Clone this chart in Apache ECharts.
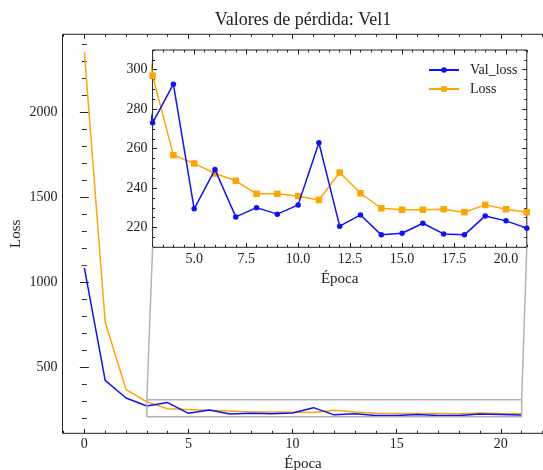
<!DOCTYPE html>
<html>
<head>
<meta charset="utf-8">
<script src="https://cdn.jsdelivr.net/npm/echarts@6/dist/echarts.min.js"></script>
<style>
  html, body { margin: 0; padding: 0; background: #fff; }
  #chart { width: 543px; height: 470px; }
</style>
</head>
<body>
<div id="chart"></div>
<script>
// Training history for model "Vel1"
const epochs = [0, 1, 2, 3, 4, 5, 6, 7, 8, 9, 10, 11, 12, 13, 14, 15, 16, 17, 18, 19, 20, 21];
const valLoss = [1086, 424, 320, 273.1, 292.7, 229.5, 249.4, 225.4, 230.1, 226.8, 231.5, 263.0,
                 220.7, 226.4, 216.3, 217.1, 222.2, 216.8, 216.3, 225.9, 223.4, 219.7];
const trainLoss = [2355, 767, 369, 297.0, 256.7, 252.5, 247.4, 243.7, 237.1, 237.1, 235.9, 234.0,
                   247.9, 237.4, 229.8, 229.0, 229.0, 229.3, 227.8, 231.5, 229.3, 227.8];

// Tick labels
const mainXTicks = [0, 5, 10, 15, 20];
const mainYTicks = [500, 1000, 1500, 2000];
const zoomXTicks = [5, 7.5, 10, 12.5, 15, 17.5, 20];
const zoomYTicks = [220, 240, 260, 280, 300];

// Axis ranges
const mainXRange = [-1.05, 22.05];
const mainYRange = [112, 2461];
const zoomXRange = [3, 21];
const zoomYRange = [210, 310];

const FONT = '"Liberation Serif", "DejaVu Serif", serif';
const INK = '#222';

function steps(from, to, step) {
  const out = [];
  for (let v = from; v <= to + 1e-9; v += step) out.push(Math.round(v * 1000) / 1000);
  return out;
}
const mainXMinor = steps(-1, 22, 1);
const mainYMinor = steps(200, 2400, 100);
const zoomXMinor = steps(3, 21, 0.5);
const zoomYMinor = steps(210, 310, 5);

// One tick-only axis (major or minor, any side)
function axis(gridIndex, position, range, ticks, len, label) {
  const a = {
    type: 'value', gridIndex, position, min: range[0], max: range[1],
    axisLine: { show: false },
    splitLine: { show: false },
    axisTick: { show: true, inside: true, length: len, customValues: ticks,
                lineStyle: { color: INK, width: 1 } },
    axisLabel: { show: false, customValues: ticks }
  };
  if (label) {
    a.axisLabel = Object.assign({ show: true, customValues: ticks, color: INK,
                                  fontFamily: FONT, fontSize: 14,
                                  formatter: v => String(v) }, label);
  }
  return a;
}

const chart = echarts.init(document.getElementById('chart'), null, { renderer: 'canvas' });

const option = {
  animation: false,
  backgroundColor: '#fff',
  title: {
    text: 'Valores de pérdida: Vel1',
    left: 303, top: 11, padding: 0, textAlign: 'center',
    textStyle: { fontFamily: FONT, fontSize: 18, fontWeight: 'normal', color: INK }
  },
  legend: {
    data: ['Val_loss', 'Loss'],
    orient: 'vertical', left: 423, top: 58,
    itemWidth: 30, itemHeight: 7, itemGap: 5,
    textStyle: { fontFamily: FONT, fontSize: 14, color: INK, padding: [0, 0, 0, 6] }
  },
  grid: [
    { left: 62.5, top: 34.3, width: 481, height: 399, show: true, outerBoundsMode: 'none',
      borderColor: INK, borderWidth: 1, backgroundColor: 'transparent' },
    { left: 152.6, top: 50, width: 374.2, height: 197.3, show: true, outerBoundsMode: 'none',
      borderColor: INK, borderWidth: 1, backgroundColor: '#fff' }
  ],
  xAxis: [
    Object.assign(axis(0, 'bottom', mainXRange, mainXTicks, 4.5, { margin: 4 }),
      { name: 'Época', nameLocation: 'middle', nameGap: 22,
        nameTextStyle: { fontFamily: FONT, fontSize: 15, color: INK } }),
    axis(0, 'bottom', mainXRange, mainXMinor, 2.5),
    axis(0, 'top', mainXRange, mainXTicks, 4.5),
    axis(0, 'top', mainXRange, mainXMinor, 2.5),
    Object.assign(axis(1, 'bottom', zoomXRange, zoomXTicks, 4.5,
      { margin: 5, formatter: v => v.toFixed(1) }),
      { name: 'Época', nameLocation: 'middle', nameGap: 24,
        nameTextStyle: { fontFamily: FONT, fontSize: 15, color: INK } }),
    axis(1, 'bottom', zoomXRange, zoomXMinor, 2.5),
    axis(1, 'top', zoomXRange, zoomXTicks, 4.5),
    axis(1, 'top', zoomXRange, zoomXMinor, 2.5)
  ],
  yAxis: [
    Object.assign(axis(0, 'left', mainYRange, mainYTicks, 4.5, { margin: 5 }),
      { name: 'Loss', nameLocation: 'middle', nameGap: 39, nameRotate: 90,
        nameMoveOverlap: false,
        nameTextStyle: { fontFamily: FONT, fontSize: 15, color: INK } }),
    axis(0, 'left', mainYRange, mainYMinor, 2.5),
    axis(0, 'right', mainYRange, mainYTicks, 4.5),
    axis(0, 'right', mainYRange, mainYMinor, 2.5),
    axis(1, 'left', zoomYRange, zoomYTicks, 4.5, { margin: 5 }),
    axis(1, 'left', zoomYRange, zoomYMinor, 2.5),
    axis(1, 'right', zoomYRange, zoomYTicks, 4.5),
    axis(1, 'right', zoomYRange, zoomYMinor, 2.5)
  ],
  series: [
    { name: 'val-full', type: 'line', xAxisIndex: 0, yAxisIndex: 0,
      data: epochs.map((e, i) => [e, valLoss[i]]), showSymbol: false, symbol: 'none',
      lineStyle: { color: '#1010ff', width: 1.5 }, z: 3 },
    { name: 'loss-full', type: 'line', xAxisIndex: 0, yAxisIndex: 0,
      data: epochs.map((e, i) => [e, trainLoss[i]]), showSymbol: false, symbol: 'none',
      lineStyle: { color: '#ffa500', width: 1.5 }, z: 2 },
    // zoomed region outline
    { name: 'zoom-box', type: 'line', xAxisIndex: 0, yAxisIndex: 0, silent: true,
      data: [[zoomXRange[0], zoomYRange[0]], [zoomXRange[1], zoomYRange[0]],
             [zoomXRange[1], zoomYRange[1]], [zoomXRange[0], zoomYRange[1]],
             [zoomXRange[0], zoomYRange[0]]],
      symbol: 'none', lineStyle: { color: '#b4b4b4', width: 1.5 }, z: 4 },
    { name: 'Val_loss', type: 'line', xAxisIndex: 4, yAxisIndex: 4,
      data: epochs.map((e, i) => [e, valLoss[i]]).filter(p => p[0] >= zoomXRange[0] - 1),
      symbol: 'circle', symbolSize: 5.5, showAllSymbol: true,
      itemStyle: { color: '#1010ff' }, lineStyle: { color: '#1010ff', width: 1.5 }, z: 6 },
    { name: 'Loss', type: 'line', xAxisIndex: 4, yAxisIndex: 4,
      data: epochs.map((e, i) => [e, trainLoss[i]]).filter(p => p[0] >= zoomXRange[0] - 1),
      symbol: 'rect', symbolSize: 6.5, showAllSymbol: true,
      itemStyle: { color: '#ffa500' }, lineStyle: { color: '#ffa500', width: 1.5 }, z: 5 }
  ]
};

chart.setOption(option);

// Connector lines from the inset's lower corners to the zoom box's upper corners
const insetLL = chart.convertToPixel({ seriesIndex: 3 }, [zoomXRange[0], zoomYRange[0]]);
const insetLR = chart.convertToPixel({ seriesIndex: 3 }, [zoomXRange[1], zoomYRange[0]]);
const boxUL = chart.convertToPixel({ seriesIndex: 2 }, [zoomXRange[0], zoomYRange[1]]);
const boxUR = chart.convertToPixel({ seriesIndex: 2 }, [zoomXRange[1], zoomYRange[1]]);
const connStyle = { stroke: '#b4b4b4', lineWidth: 1.5 };
chart.setOption({
  graphic: [
    { type: 'line', silent: true, z: 1,
      shape: { x1: insetLL[0], y1: insetLL[1], x2: boxUL[0], y2: boxUL[1] }, style: connStyle },
    { type: 'line', silent: true, z: 1,
      shape: { x1: insetLR[0], y1: insetLR[1], x2: boxUR[0], y2: boxUR[1] }, style: connStyle }
  ]
});
</script>
</body>
</html>
